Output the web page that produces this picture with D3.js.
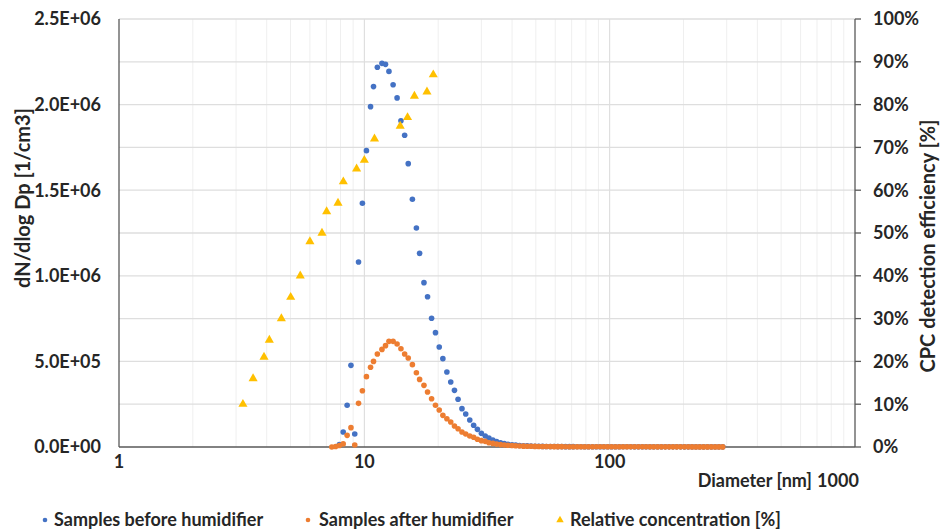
<!DOCTYPE html>
<html>
<head>
<meta charset="utf-8">
<script src="https://cdn.jsdelivr.net/npm/d3@7"></script>
<style>
  html, body { margin: 0; padding: 0; background: #fff; }
  svg { display: block; font-family: Lato, "Open Sans", sans-serif; font-weight: bold; }
</style>
</head>
<body>
<svg id="chart" width="941" height="532"></svg>
<script>
// SMPS channel diameters [nm]
const diameters = [
  7.37, 7.64, 7.91, 8.20, 8.51, 8.82, 9.14, 9.47, 9.82, 10.2,
  10.6, 10.9, 11.3, 11.8, 12.2, 12.6, 13.1, 13.6, 14.1, 14.6,
  15.1, 15.7, 16.3, 16.8, 17.5, 18.1, 18.8, 19.5, 20.2, 20.9,
  21.7, 22.5, 23.3, 24.1, 25.0, 25.9, 26.9, 27.9, 28.9, 30.0,
  31.1, 32.2, 33.4, 34.6, 35.9, 37.2, 38.5, 40.0, 41.4, 42.9,
  44.5, 46.1, 47.8, 49.6, 51.4, 53.3, 55.2, 57.3, 59.4, 61.5,
  63.8, 66.1, 68.5, 71.0, 73.7, 76.4, 79.1, 82.0, 85.1, 88.2,
  91.4, 94.7, 98.2, 101.8, 105.5, 109.4, 113.4, 117.6, 121.9, 126.3,
  131.0, 135.8, 140.7, 145.9, 151.2, 156.8, 162.5, 168.5, 174.7, 181.1,
  187.7, 194.6, 201.7, 209.1, 216.7, 224.7, 232.9, 241.4, 250.3, 259.5,
  269.0, 278.8, 289.0
];

// dN/dlog Dp before humidifier
const beforeHum = [
  null, null, 15000, 88000, 244000, 477000, 76000, 1081000, 1424000, 1731000,
  1988000, 2105000, 2218000, 2241000, 2235000, 2194000, 2116000, 2039000, 1906000, 1821000,
  1655000, 1447000, 1279000, 1131000, 960000, 878000, 752000, 668000, 584000, 516000,
  438000, 380000, 331000, 279000, 224000, 193000, 158000, 127000, 103000, 80000,
  64000, 53000, 41000, 32000, 25000, 20000, 16000, 13000, 11000, 9000,
  7500, 6500, 5500, 4800, 4200, 3600, 3200, 2900, 2600, 2400,
  2200, 2100, 2000, 1900, 1800, 1800, 1700, 1700, 1600, 1600,
  1500, 1500, 1500, 1400, 1400, 1400, 1300, 1300, 1300, 1200,
  1200, 1200, 1200, 1100, 1100, 1100, 1100, 1000, 1000, 1000,
  1000, 1000, 900, 900, 900, 900, 900, 800, 800, 800,
  800, 800, 800
];

// dN/dlog Dp after humidifier
const afterHum = [
  0, 3000, 9000, 18000, 68000, 113000, 12000, 255000, 329000, 411000,
  466000, 500000, 543000, 570000, 592000, 617000, 617000, 602000, 574000, 543000,
  520000, 481000, 434000, 395000, 360000, 321000, 282000, 244000, 216000, 185000,
  165000, 146000, 123000, 107000, 88000, 76000, 64000, 57000, 45000, 37000,
  33000, 25000, 21000, 17000, 14000, 12000, 10000, 8500, 7000, 6000,
  5000, 4500, 4000, 3500, 3000, 2800, 2500, 2300, 2100, 2000,
  1900, 1800, 1700, 1600, 1600, 1500, 1500, 1400, 1400, 1300,
  1300, 1300, 1200, 1200, 1200, 1100, 1100, 1100, 1000, 1000,
  1000, 1000, 1000, 900, 900, 900, 900, 900, 800, 800,
  800, 800, 800, 800, 700, 700, 700, 700, 700, 700,
  700, 700, 700
];

// relative concentration [%] (right axis)
const relDiam = [3.2, 3.52, 3.9, 4.1, 4.59, 5.01, 5.48, 6.0, 6.72, 7.02, 7.81, 8.21, 9.3, 10.0, 11.0, 14.0, 15.0, 16.0, 18.0, 19.1];
const relConc = [10, 16, 21, 25, 30, 35, 40, 48, 50, 55, 57, 62, 65, 67, 72, 75, 77, 82, 83, 87];

const yLeftTicks = [0, 500000, 1000000, 1500000, 2000000, 2500000];
const yRightTicks = [0, 10, 20, 30, 40, 50, 60, 70, 80, 90, 100];
const xTicks = [1, 10, 100, 1000];

const W = 941, H = 532;
const margin = { left: 119, right: 86, top: 19, bottom: 85 };
const FS = 18, FT = 20;
const svg = d3.select("#chart");

const x = d3.scaleLog().domain([1, 1000]).range([margin.left, W - margin.right]);
const y = d3.scaleLinear().domain([0, 2500000]).range([H - margin.bottom, margin.top]);
const y2 = d3.scaleLinear().domain([0, 100]).range([H - margin.bottom, margin.top]);

const x0 = margin.left, x1 = W - margin.right, yb = H - margin.bottom, yt = margin.top;

// grid
const grid = svg.append("g");
const minorX = [];
for (let dec = 1; dec < 1000; dec *= 10) for (let k = 2; k <= 9; k++) minorX.push(dec * k);
grid.selectAll(".vminor").data(minorX).join("line")
  .attr("x1", d => x(d)).attr("x2", d => x(d)).attr("y1", yt).attr("y2", yb)
  .attr("stroke", "#efefef").attr("stroke-width", 1);
grid.selectAll(".vmajor").data([10, 100]).join("line")
  .attr("x1", d => x(d)).attr("x2", d => x(d)).attr("y1", yt).attr("y2", yb)
  .attr("stroke", "#d9d9d9").attr("stroke-width", 1);
grid.selectAll(".h").data(d3.range(1, 11).map(i => i * 250000)).join("line")
  .attr("x1", x0).attr("x2", x1).attr("y1", d => y(d)).attr("y2", d => y(d))
  .attr("stroke", "#dedede").attr("stroke-width", 1.3);

// axes lines
svg.append("line").attr("x1", x0).attr("x2", x0).attr("y1", yt).attr("y2", yb)
  .attr("stroke", "#595959").attr("stroke-width", 1.3);
svg.append("line").attr("x1", x1).attr("x2", x1).attr("y1", yt).attr("y2", yb)
  .attr("stroke", "#595959").attr("stroke-width", 1.3);
svg.selectAll(".rtick").data(yRightTicks).join("line")
  .attr("x1", x1).attr("x2", x1 + 6).attr("y1", d => y2(d)).attr("y2", d => y2(d))
  .attr("stroke", "#595959").attr("stroke-width", 1.3);

// tick labels
svg.selectAll(".ylab").data(yLeftTicks).join("text")
  .attr("x", 101).attr("y", d => y(d)).attr("dy", "0.35em")
  .attr("text-anchor", "end").attr("font-size", FS).attr("fill", "#262626")
  .text(d => d3.format(".1e")(d).replace("e", "E").replace(/E([+-])(\d)$/, "E$10$2"));
svg.selectAll(".y2lab").data(yRightTicks).join("text")
  .attr("x", 873).attr("y", d => y2(d)).attr("dy", "0.35em")
  .attr("font-size", FS).attr("fill", "#262626")
  .text(d => d + "%");
svg.selectAll(".xlab").data(xTicks).join("text")
  .attr("x", d => d === 1000 ? 838 : x(d)).attr("y", d => d === 1000 ? 487 : 468)
  .attr("text-anchor", "middle").attr("font-size", FS).attr("fill", "#262626")
  .text(d => d);

// axis titles
svg.append("text").attr("transform", "translate(30,198) rotate(-90)")
  .attr("text-anchor", "middle").attr("font-size", FT).attr("fill", "#262626")
  .text("dN/dlog Dp [1/cm3]");
svg.append("text").attr("transform", "translate(935,246) rotate(-90)")
  .attr("text-anchor", "middle").attr("font-size", FT).attr("fill", "#262626")
  .text("CPC detection efficiency [%]");
svg.append("text").attr("x", 812).attr("y", 487)
  .attr("text-anchor", "end").attr("font-size", FS).attr("fill", "#262626")
  .text("Diameter [nm]");

// bottom axis on top of grid
svg.append("line").attr("x1", x0).attr("x2", x1).attr("y1", yb).attr("y2", yb)
  .attr("stroke", "#595959").attr("stroke-width", 1.6);

// series
const blue = "#4472C4", orange = "#ED7D31", gold = "#FFC000";
const tri = d3.symbol().type(d3.symbolTriangle).size(36);

svg.append("g").selectAll("circle")
  .data(diameters.map((d, i) => [d, beforeHum[i]]).filter(p => p[1] !== null))
  .join("circle")
  .attr("cx", p => x(p[0])).attr("cy", p => y(p[1])).attr("r", 2.8).attr("fill", blue);

svg.append("g").selectAll("circle")
  .data(diameters.map((d, i) => [d, afterHum[i]]).filter(p => p[1] !== null))
  .join("circle")
  .attr("cx", p => x(p[0])).attr("cy", p => y(p[1])).attr("r", 2.8).attr("fill", orange);

svg.append("g").selectAll("path")
  .data(relDiam.map((d, i) => [d, relConc[i]]))
  .join("path")
  .attr("d", tri)
  .attr("transform", p => `translate(${x(p[0])},${y2(p[1])})`)
  .attr("fill", gold);

// legend
const legend = [
  { label: "Samples before humidifier", color: blue, shape: "circle", mx: 45, tx: 54 },
  { label: "Samples after humidifier", color: orange, shape: "circle", mx: 308, tx: 319 },
  { label: "Relative concentration [%]", color: gold, shape: "tri", mx: 560, tx: 570 }
];
const lg = svg.append("g");
legend.forEach(l => {
  if (l.shape === "circle") {
    lg.append("circle").attr("cx", l.mx).attr("cy", 520).attr("r", 2.3).attr("fill", l.color);
  } else {
    lg.append("path").attr("d", d3.symbol().type(d3.symbolTriangle).size(24))
      .attr("transform", `translate(${l.mx},520)`).attr("fill", l.color);
  }
  lg.append("text").attr("x", l.tx).attr("y", 520).attr("dy", "0.35em")
    .attr("font-size", FS).attr("fill", "#262626").text(l.label);
});
</script>
</body>
</html>
